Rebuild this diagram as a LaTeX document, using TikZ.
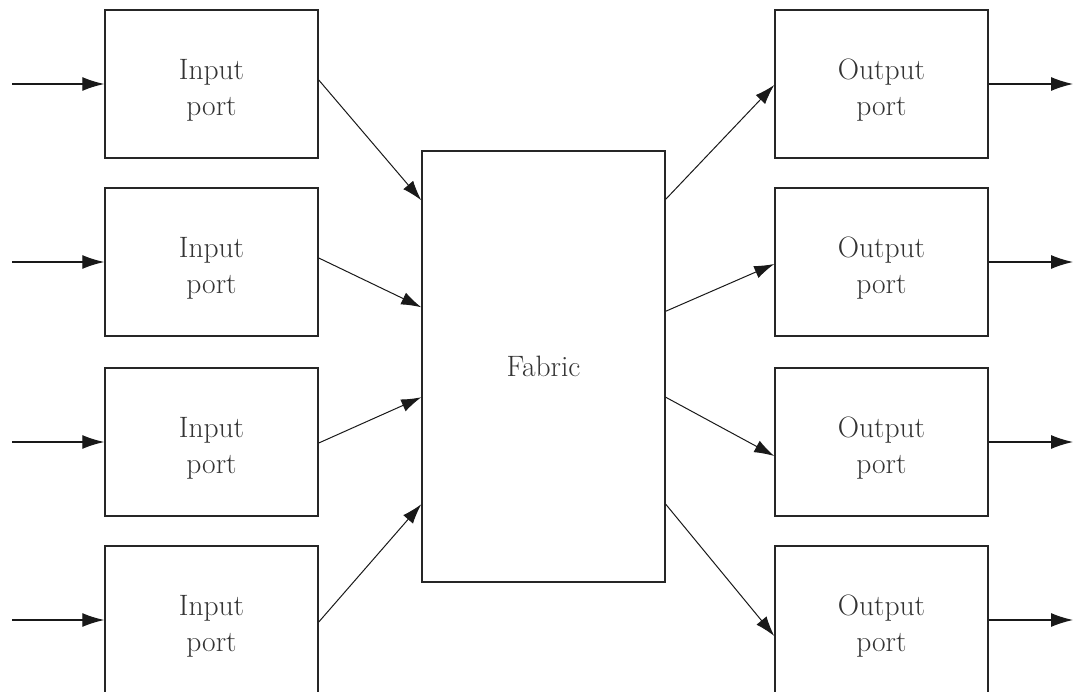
\documentclass[tikz,border=0pt]{standalone}
\usetikzlibrary{arrows.meta}
\newcommand\portlabel[2]{\raisebox{-6pt}[\height][\depth]{\begin{tabular}{@{}c@{}}#1\\#2\end{tabular}}}
\begin{document}
\begin{tikzpicture}[x=1pt,y=-1pt,
  port/.style={draw=black!85, line width=1.5pt, minimum width=213pt, minimum height=148pt,
    inner sep=0pt, text=black!80, font=\fontsize{29.5}{36}\selectfont},
  fabricbox/.style={draw=black!85, line width=1.5pt, minimum width=243pt, minimum height=431pt,
    inner sep=0pt, text=black!80, font=\fontsize{29.5}{36}\selectfont},
  link/.style={draw=black!90, line width=1.2pt, -{Latex[length=22pt,width=14pt]}},
  diag/.style={draw=black!90, line width=1pt, -{Latex[length=20pt,width=13pt]}}
]
\clip (0,0) rectangle (1075,692);

% ports on the left and right
\node[port] (in1) at (211.5,84) {\portlabel{Input}{port}};
\node[port] (in2) at (211.5,262) {\portlabel{Input}{port}};
\node[port] (in3) at (211.5,442) {\portlabel{Input}{port}};
\node[port] (in4) at (211.5,620) {\portlabel{Input}{port}};
\node[port] (out1) at (881.5,84) {\portlabel{Output}{port}};
\node[port] (out2) at (881.5,262) {\portlabel{Output}{port}};
\node[port] (out3) at (881.5,442) {\portlabel{Output}{port}};
\node[port] (out4) at (881.5,620) {\portlabel{Output}{port}};

% switching fabric in the middle
\node[fabricbox] (fab) at (543.5,366.5) {Fabric};

% free ends of the external links
\foreach \i/\y in {1/84,2/262,3/442,4/620}{
  \coordinate (src\i) at (12,\y);
  \coordinate (dst\i) at (1073,\y);
  \draw[link] (src\i) -- (in\i.west);
  \draw[link] (out\i.east) -- (dst\i);
}

% input ports into the fabric
\draw[diag] ([yshift=4pt]in1.east) -- ([yshift=-50pt]fab.north west);
\draw[diag] ([yshift=4pt]in2.east) -- ([yshift=-157pt]fab.north west);
\draw[diag] ([yshift=-1pt]in3.east) -- ([yshift=-247pt]fab.north west);
\draw[diag] ([yshift=-2pt]in4.east) -- ([yshift=-354pt]fab.north west);

% fabric out to the output ports
\draw[diag] ([yshift=-49pt]fab.north east) -- ([yshift=-1pt]out1.west);
\draw[diag] ([yshift=-161pt]fab.north east) -- ([yshift=-2pt]out2.west);
\draw[diag] ([yshift=-247pt]fab.north east) -- ([yshift=-14pt]out3.west);
\draw[diag] ([yshift=-354pt]fab.north east) -- ([yshift=-16pt]out4.west);
\end{tikzpicture}
\end{document}
